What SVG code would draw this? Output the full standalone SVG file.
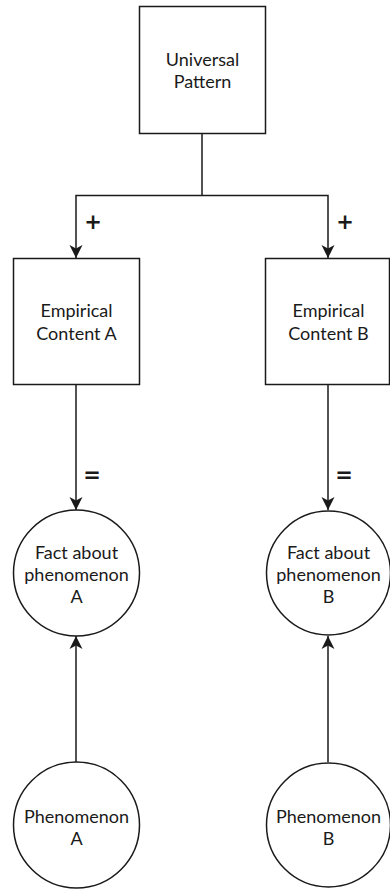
<svg xmlns="http://www.w3.org/2000/svg" width="390" height="889" viewBox="0 0 390 889">
<style>
.box{fill:#fff;stroke:#1a1a1a;stroke-width:1.5}
.lbl{font-family:Lato,"Open Sans",sans-serif;font-size:18px;fill:#1a1a1a;text-anchor:middle}
.op{font-family:"DejaVu Sans",sans-serif;font-size:21px;font-weight:bold;fill:#1a1a1a;text-anchor:middle}
.edge{fill:none;stroke:#1a1a1a;stroke-width:1.5}
</style>
<defs>
<marker id="arr" markerUnits="userSpaceOnUse" markerWidth="14" markerHeight="14" refX="13" refY="6.5" orient="auto" viewBox="0 0 14 13">
<path d="M13,6.5 L0,0 L3.5,6.5 L0,13 Z" fill="#1a1a1a"/>
</marker>
</defs>
<rect width="390" height="889" fill="#fff"/>
<g id="connectors">
<path class="edge" d="M202,133 V195.5"/>
<path class="edge" d="M202,195.5 H76 V258" marker-end="url(#arr)"/>
<path class="edge" d="M202,195.5 H328 V258" marker-end="url(#arr)"/>
<path class="edge" d="M76,384 V510" marker-end="url(#arr)"/>
<path class="edge" d="M328,384 V510" marker-end="url(#arr)"/>
<path class="edge" d="M76,762 V636" marker-end="url(#arr)"/>
<path class="edge" d="M328,762 V636" marker-end="url(#arr)"/>
<text class="op" x="93" y="229">+</text>
<text class="op" x="345" y="229">+</text>
<text class="op" x="92" y="482">=</text>
<text class="op" x="344" y="482">=</text>
</g>
<g id="universal">
<rect class="box" x="139.5" y="6.5" width="126" height="127"/>
<text class="lbl" x="202.5" y="66">Universal</text>
<text class="lbl" x="202.5" y="88">Pattern</text>
</g>
<g id="empA">
<rect class="box" x="13.5" y="258.5" width="126" height="126"/>
<text class="lbl" x="76.5" y="317">Empirical</text>
<text class="lbl" x="76.5" y="340">Content A</text>
</g>
<g id="empB">
<rect class="box" x="265.5" y="258.5" width="124" height="126"/>
<text class="lbl" x="328.5" y="317">Empirical</text>
<text class="lbl" x="328.5" y="340">Content B</text>
</g>
<g id="factA">
<circle class="box" cx="76.5" cy="573" r="63"/>
<text class="lbl" x="76.5" y="559">Fact about</text>
<text class="lbl" x="76.5" y="581">phenomenon</text>
<text class="lbl" x="76.5" y="603">A</text>
</g>
<g id="factB">
<circle class="box" cx="328.5" cy="573" r="62"/>
<text class="lbl" x="328.5" y="559">Fact about</text>
<text class="lbl" x="328.5" y="581">phenomenon</text>
<text class="lbl" x="328.5" y="603">B</text>
</g>
<g id="phenA">
<circle class="box" cx="76.5" cy="825" r="63"/>
<text class="lbl" x="76.5" y="823">Phenomenon</text>
<text class="lbl" x="76.5" y="845">A</text>
</g>
<g id="phenB">
<circle class="box" cx="328.5" cy="825" r="62"/>
<text class="lbl" x="328.5" y="823">Phenomenon</text>
<text class="lbl" x="328.5" y="845">B</text>
</g>
</svg>
